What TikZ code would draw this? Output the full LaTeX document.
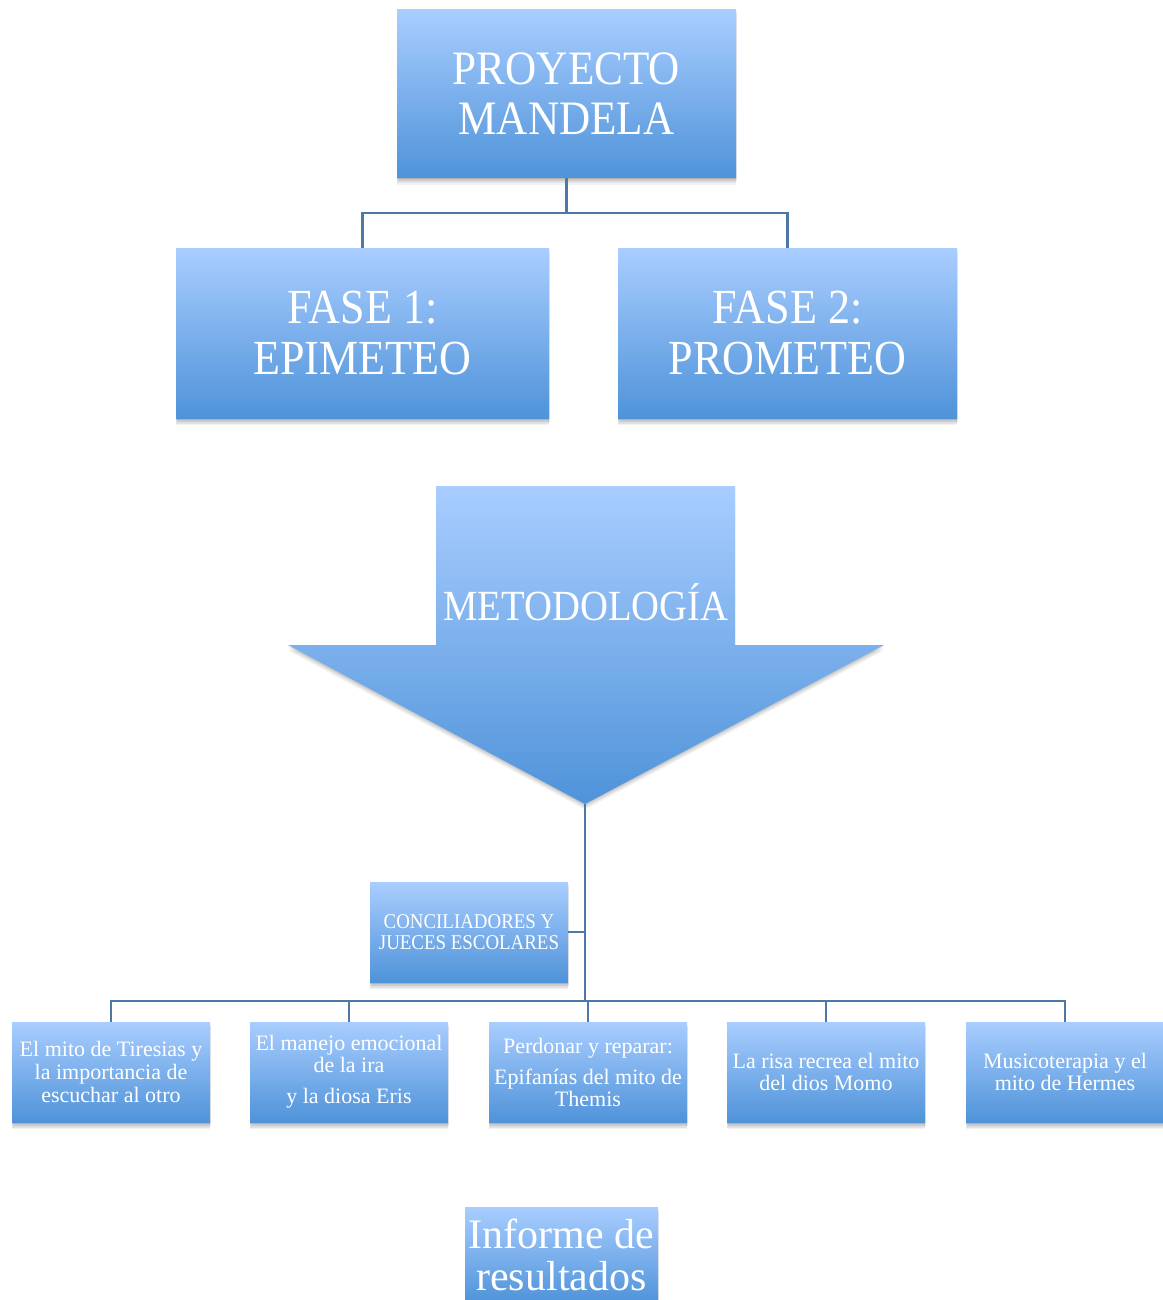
\documentclass[tikz,border=0pt]{standalone}
\usepackage{fontspec}
\setmainfont{Liberation Serif}
\newfontfamily\capsf[FakeStretch=0.9]{Liberation Serif}
\usetikzlibrary{shadows}
\definecolor{gtop}{RGB}{169,205,255}
\definecolor{gbot}{RGB}{79,147,217}
\definecolor{conn}{RGB}{78,121,167}
\tikzset{
 box/.style={rectangle, inner sep=0pt, top color=gtop, bottom color=gbot, text=white, align=center,
   general shadow={fill=black, opacity=.12, shadow yshift=-1.5pt},
   general shadow={fill=black, opacity=.10, shadow yshift=-3.5pt, shadow xshift=1pt},
   general shadow={fill=black, opacity=.07, shadow yshift=-5.5pt},
   general shadow={fill=black, opacity=.05, shadow yshift=-7pt}},
 smallbox/.style={box, minimum width=198pt, minimum height=100pt, font=\fontsize{22}{21.5}\selectfont},
 link/.style={draw=conn, line width=2.2pt},
}
\begin{document}
\begin{tikzpicture}[x=1pt,y=-1pt]
\useasboundingbox (0,0) rectangle (1162,1300);
% top level
\node[box, minimum width=339pt, minimum height=168pt, font=\capsf\fontsize{48}{50}\selectfont] (top) at (566.5,94) {PROYECTO\\MANDELA};
\node[box, minimum width=373pt, minimum height=170pt, font=\capsf\fontsize{49}{51}\selectfont] (f1) at (362.5,333) {FASE 1:\\EPIMETEO};
\node[box, minimum width=339pt, minimum height=170pt, font=\capsf\fontsize{49}{51}\selectfont] (f2) at (787.5,333) {FASE 2:\\PROMETEO};
\coordinate (tj) at (566.5,213);
\draw[link] (top.south) -- (top.south |- tj);
\draw[link] (f1.north) -- (f1.north |- tj) -- (f2.north |- tj) -- (f2.north);
% big arrow
\def\arrowpath{(436,486) -- (735,486) -- (735,645) -- (884,645) -- (585,804) -- (288,645) -- (436,645) -- cycle}
\fill[black, opacity=.10, yshift=-1.5pt] \arrowpath;
\fill[black, opacity=.08, yshift=-3.5pt] \arrowpath;
\fill[black, opacity=.06, yshift=-5.5pt] \arrowpath;
\path[top color=gtop, bottom color=gbot] \arrowpath;
\node[font=\capsf\fontsize{43}{45}\selectfont, text=white, anchor=base, inner sep=0pt] (meto) at (586,620) {METODOLOGÍA};
\coordinate (tip) at (585,804);
\coordinate (bus) at (585,1001);
% conciliadores
\node[box, minimum width=198pt, minimum height=100pt, font=\capsf\fontsize{21}{21.5}\selectfont] (conc) at (469,932) {CONCILIADORES Y\\JUECES ESCOLARES};
% bottom row
\node[smallbox, font=\fontsize{22}{23}\selectfont] (b1) at (111,1072) {El mito de Tiresias y\\la importancia de\\escuchar al otro};
\node[smallbox] (b2) at (349,1072) {El manejo emocional\\de la ira\\[10pt]y la diosa Eris};
\node[smallbox] (b3) at (588,1072) {Perdonar y reparar:\\[10pt]Epifanías del mito de\\Themis};
\node[smallbox] (b4) at (826,1072) {La risa recrea el mito\\del dios Momo};
\node[smallbox] (b5) at (1065,1072) {Musicoterapia y el\\mito de Hermes};
% informe
\node[box, minimum width=193pt, minimum height=96pt, font=\fontsize{42}{42}\selectfont] (inf) at (561.5,1255) {Informe de\\resultados};
% connectors
\draw[link] (tip) -- (bus);
\draw[link] (conc.east) -- (conc.east -| tip);
\draw[link] (b1.north) -- (b1.north |- bus) -- (b5.north |- bus) -- (b5.north);
\draw[link] (b2.north) -- (b2.north |- bus);
\draw[link] (b3.north) -- (b3.north |- bus);
\draw[link] (b4.north) -- (b4.north |- bus);
\end{tikzpicture}
\end{document}
